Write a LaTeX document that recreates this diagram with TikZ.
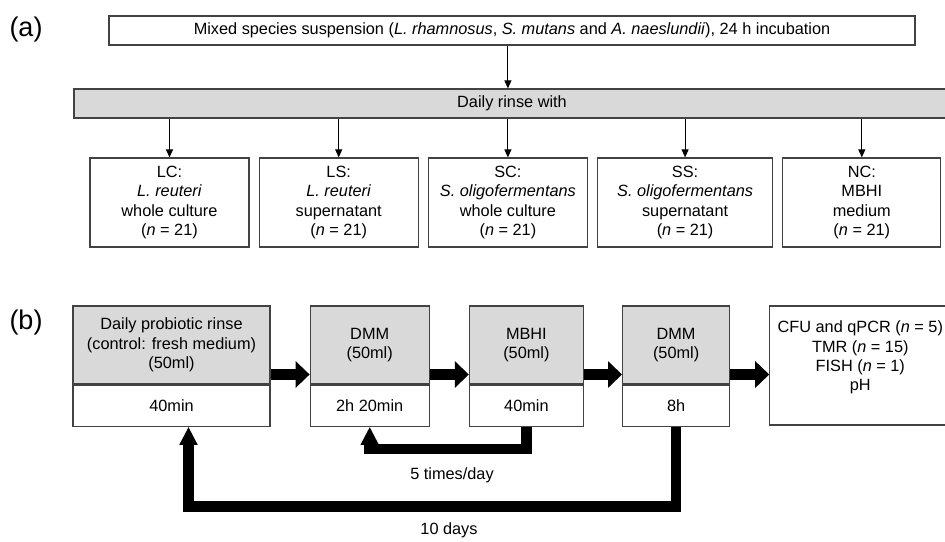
\documentclass[tikz,border=0pt]{standalone}
\usepackage{fontspec}
\setmainfont{Liberation Sans}
\usepackage{tikz}
\usetikzlibrary{arrows.meta,positioning,calc}
\definecolor{RinseGray}{HTML}{D9D9D9}
\definecolor{EdgeGray}{HTML}{424242}

\begin{document}
\begin{tikzpicture}[x=1pt,y=-1pt,node distance=9pt,>=Latex,
  font=\fontsize{16.3}{19.3}\selectfont]
\tikzstyle{whitebox}=[rectangle,draw=EdgeGray,line width=1.2pt,fill=white,
                      align=center,inner sep=0pt]
\tikzstyle{graybox}=[whitebox,fill=RinseGray]
\tikzstyle{thin}=[->,line width=1pt,>={Triangle[width=7pt,length=8pt]}]
\tikzstyle{fatarr}=[-{Triangle[width=26pt,length=14pt]},line width=11.5pt]
\tikzstyle{backarr}=[-{Triangle[width=17pt,length=18pt]},line width=10.5pt]
\clip (0,0) rectangle (945,541);

% (a) rinse groups
\node[font=\fontsize{27}{30}\selectfont] (la) at (26,30) {(a)};
\node[whitebox,minimum width=806pt,minimum height=29pt] (mix) at (512,30.5)
  {Mixed species suspension (\textit{L.~rhamnosus}, \textit{S.~mutans} and
   \textit{A.~naeslundii}), 24 h incubation};
\node[graybox,minimum width=876pt,minimum height=29pt] (daily) at (512,103.5)
  {Daily rinse with};

\tikzstyle{group}=[whitebox,minimum width=159pt,minimum height=89pt]
\node[group] (lc) at (169.5,202.5) {LC:\\\textit{L. reuteri}\\whole culture\\(\textit{n} = 21)};
\node[group,right=of lc] (ls) {LS:\\\textit{L. reuteri}\\supernatant\\(\textit{n} = 21)};
\node[group,right=of ls] (sc) {SC:\\\textit{S. oligofermentans}\\whole culture\\(\textit{n} = 21)};
\node[group,right=of sc,minimum width=175pt] (ss) {SS:\\\textit{S. oligofermentans}\\supernatant\\(\textit{n} = 21)};
\node[group,right=of ss,minimum width=158pt] (nc) {NC:\\MBHI\\medium\\(\textit{n} = 21)};

\draw[thin] (mix.south -| sc.north) -- (daily.north -| sc.north);
\foreach \g in {lc,ls,sc,ss,nc}
  \draw[thin] (daily.south -| \g.north) -- (\g.north);

% (b) daily schedule
\node[font=\fontsize{27}{30}\selectfont] (lb) at (26,323) {(b)};
\tikzstyle{top}=[graybox,minimum height=78pt]
\tikzstyle{bottom}=[whitebox,minimum height=41pt]
\node[top,minimum width=197pt] (rinse) at (171.5,345)
  {Daily probiotic rinse\\(control: fresh medium)\\(50ml)};
\node[bottom,minimum width=197pt,below=0pt of rinse] (rinset) {40min};
\node[top,minimum width=119pt,right=39pt of rinse] (dmma) {DMM\\(50ml)};
\node[bottom,minimum width=119pt,below=0pt of dmma] (dmmat) {2h 20min};
\node[top,minimum width=114pt,right=39pt of dmma] (mbhi) {MBHI\\(50ml)};
\node[bottom,minimum width=114pt,below=0pt of mbhi] (mbhit) {40min};
\node[top,minimum width=107pt,right=38pt of mbhi] (dmmb) {DMM\\(50ml)};
\node[bottom,minimum width=107pt,below=0pt of dmmb] (dmmbt) {8h};
\node[whitebox,minimum width=181pt,minimum height=119pt,anchor=north west]
  (assay) at ($(dmmb.north east)+(39,0)$)
  {CFU and qPCR (\textit{n} = 5)\\TMR (\textit{n} = 15)\\FISH (\textit{n} = 1)\\pH\\\mbox{}};

\coordinate (lane) at (0,374.5);
\draw[fatarr] (rinse.east |- lane) -- (dmma.west |- lane);
\draw[fatarr] (dmma.east |- lane) -- (mbhi.west |- lane);
\draw[fatarr] (mbhi.east |- lane) -- (dmmb.west |- lane);
\draw[fatarr] (dmmb.east |- lane) -- (assay.west |- lane);

\draw[backarr] (mbhit.south) -- ++(0,22) -| (dmmat.south);
\draw[backarr] (dmmbt.south) -- ++(0,79.5) -| ($(rinset.south)+(17,0)$);
\node (five) at (452,475) {5 times/day};
\node (ten) at (449,530) {10 days};
\end{tikzpicture}
\end{document}
